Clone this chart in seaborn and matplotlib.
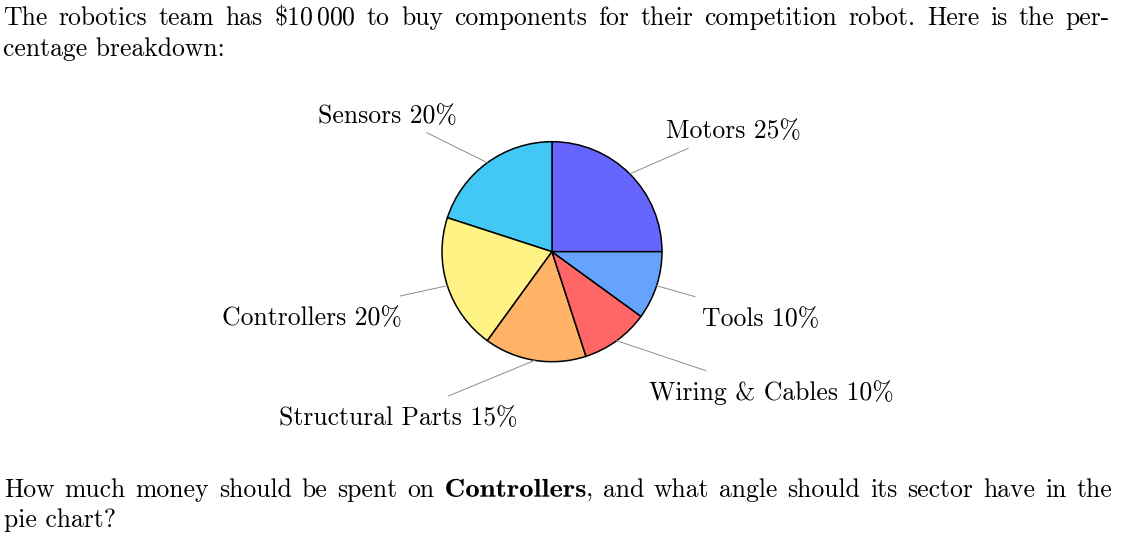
import matplotlib
matplotlib.use("Agg")
import numpy as np
import matplotlib.pyplot as plt
import seaborn as sns
from matplotlib.textpath import TextPath
from matplotlib.patches import PathPatch
from matplotlib.font_manager import FontProperties
from matplotlib.transforms import Affine2D, IdentityTransform

# %%
# budget split for the robot (percent)
components = ["Motors", "Sensors", "Controllers", "Structural Parts", "Wiring & Cables", "Tools"]
percents = [25, 20, 20, 15, 10, 10]
slice_colors = ["#6666FF", "#42C8F4", "#FFF386", "#FFB366", "#FF6666", "#66A3FF"]

intro_line1 = r"The robotics team has $\$10\,000$ to buy components for their competition robot. Here is the per-"
intro_line2 = "centage breakdown:"
# words wrapped in ** are set in bold
question_line1 = "How much money should be spent on **Controllers**, and what angle should its sector have in the"
question_line2 = "pie chart?"

# %%
W, H = 1141, 552
cx, cy, R = 552, 251.7, 110.0   # pie centre / radius in pixels
FS = 18.5
BOLD_STRETCH = 1.12   # cmb10 is narrower than LaTeX's bold extended

sns.set_theme(style="white")
plt.rcParams["font.family"] = ["cmr10", "DejaVu Serif"]
plt.rcParams["mathtext.fontset"] = "cm"
plt.rcParams["axes.formatter.use_mathtext"] = True

fig = plt.figure(figsize=(W / 100, H / 100), dpi=100)
ax = fig.add_axes([0, 0, 1, 1])

palette = sns.color_palette(slice_colors)
ax.pie(percents, colors=palette, startangle=0, counterclock=True, radius=1,
       wedgeprops=dict(edgecolor="black", linewidth=1.1))
ax.set_xlim(-cx / R, (W - cx) / R)
ax.set_ylim(-(H - cy) / R, cy / R)
ax.axis("off")

# label layout: end of leader line (pie units), text anchor (pixels), alignment
line_ends = [(1.239, 0.940), (-1.139, 1.082), (-1.382, -0.403),
             (-0.943, -1.312), (1.40, -1.082), (1.30, -0.409)]
label_xy = [(666, 138.3), (456.7, 123.3), (401.7, 325),
            (279.3, 425), (649.3, 400), (701.7, 326)]
label_ha = ["left", "right", "right", "left", "left", "left"]

start = 0
for name, pct, (ex, ey), (lx, ly), ha in zip(components, percents, line_ends, label_xy, label_ha):
    mid = np.deg2rad((start + pct / 2) / 100 * 360)
    start += pct
    ax.plot([np.cos(mid), ex], [np.sin(mid), ey], color="#8c8c8c", lw=0.7)
    fig.text(lx / W, 1 - ly / H, f"{name} {pct}%",
             fontsize=FS, ha=ha, va="baseline", color="black")


# %%
def justified(line, x0, x1, y):
    r = fig.canvas.get_renderer()
    words = []   # list of lists of (kind, artist, width)
    for w in line.split(" "):
        parts = []
        if w.startswith("**"):
            bold, rest = w[2:].split("**")
            tp = TextPath((0, 0), bold, size=FS * 100 / 72, prop=FontProperties(family="cmb10"))
            patch = PathPatch(tp, facecolor="black", edgecolor="none", transform=IdentityTransform())
            fig.add_artist(patch)
            parts.append(("path", patch, tp.get_extents().x1 * BOLD_STRETCH))
            if rest:
                t = fig.text(0, 1 - y / H, rest, fontsize=FS, va="baseline", color="black")
                parts.append(("text", t, t.get_window_extent(r).width))
        else:
            t = fig.text(0, 1 - y / H, w, fontsize=FS, va="baseline", color="black")
            parts.append(("text", t, t.get_window_extent(r).width))
        words.append(parts)
    total = sum(p[2] for parts in words for p in parts)
    gap = (x1 - x0 - total) / (len(words) - 1)
    x = x0
    for parts in words:
        for kind, art, w in parts:
            if kind == "text":
                art.set_x(x / W)
            else:
                art.set_transform(Affine2D().scale(BOLD_STRETCH, 1).translate(x, H - y))
            x += w
        x += gap


justified(intro_line1, 3, 1110, 25)
fig.text(3 / W, 1 - 55.7 / H, intro_line2, fontsize=FS, va="baseline", color="black")
justified(question_line1, 4, 1112, 496.7)
fig.text(4 / W, 1 - 526.7 / H, question_line2, fontsize=FS, va="baseline", color="black")

plt.savefig("out.png", dpi=100)
